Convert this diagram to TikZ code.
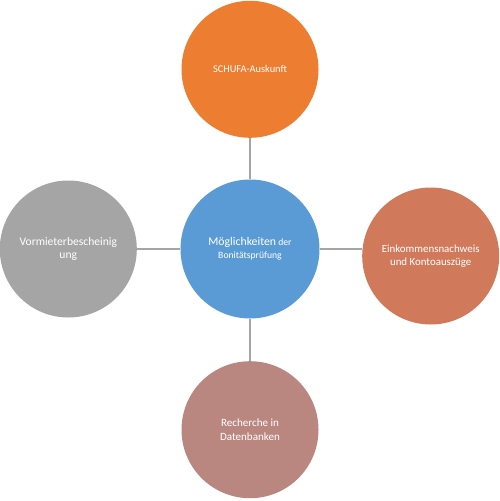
\documentclass[tikz,border=0pt]{standalone}
\usepackage{fontspec}
\setmainfont{Carlito}
\usetikzlibrary{positioning}
\definecolor{hubblue}{HTML}{5B9BD5}
\definecolor{schufaorange}{HTML}{ED7D31}
\definecolor{vormietergray}{HTML}{A5A5A5}
\definecolor{einkommenred}{HTML}{D17A5B}
\definecolor{recherchebrown}{HTML}{B9877F}
\definecolor{linkgray}{HTML}{A5A5A5}

\begin{document}
\begin{tikzpicture}[
    bubble/.style={circle, minimum size=2.74cm, inner sep=0pt, align=center, text=white, font=\fontsize{5.9}{7.4}\selectfont},
    link/.style={draw=linkgray, line width=1.1pt}
]
    \useasboundingbox (0,0) rectangle (10,-10.02);

    \node[bubble, fill=hubblue, minimum size=2.78cm, font=\fontsize{5.5}{7.4}\selectfont] (hub) at (5,-4.98) {
        {\fontsize{6.7}{7.4}\selectfont M\"oglichkeiten} der\\
        Bonit\"atspr\"ufung
    };

    \node[bubble, fill=schufaorange] (schufa) [above=0.82cm of hub] {SCHUFA-Auskunft};
    \node[bubble, fill=vormietergray, font=\fontsize{6.6}{7.9}\selectfont] (vormieter) [left=0.86cm of hub] {Vormieterbescheinig\\ung};
    \node[bubble, fill=einkommenred, yshift=-0.14cm, font=\fontsize{6.2}{7.6}\selectfont] (einkommen) [right=0.84cm of hub] {Einkommensnachweis\\und Kontoausz\"uge};
    \node[bubble, fill=recherchebrown, font=\fontsize{6.3}{7.8}\selectfont] (recherche) [below=0.84cm of hub] {Recherche in\\Datenbanken};

    \draw[link] (hub.north) -- (schufa.south);
    \draw[link] (hub.west) -- (vormieter.east);
    \draw[link] (hub.east) -- (hub.east -| einkommen.west);
    \draw[link] (hub.south) -- (recherche.north);
\end{tikzpicture}
\end{document}
